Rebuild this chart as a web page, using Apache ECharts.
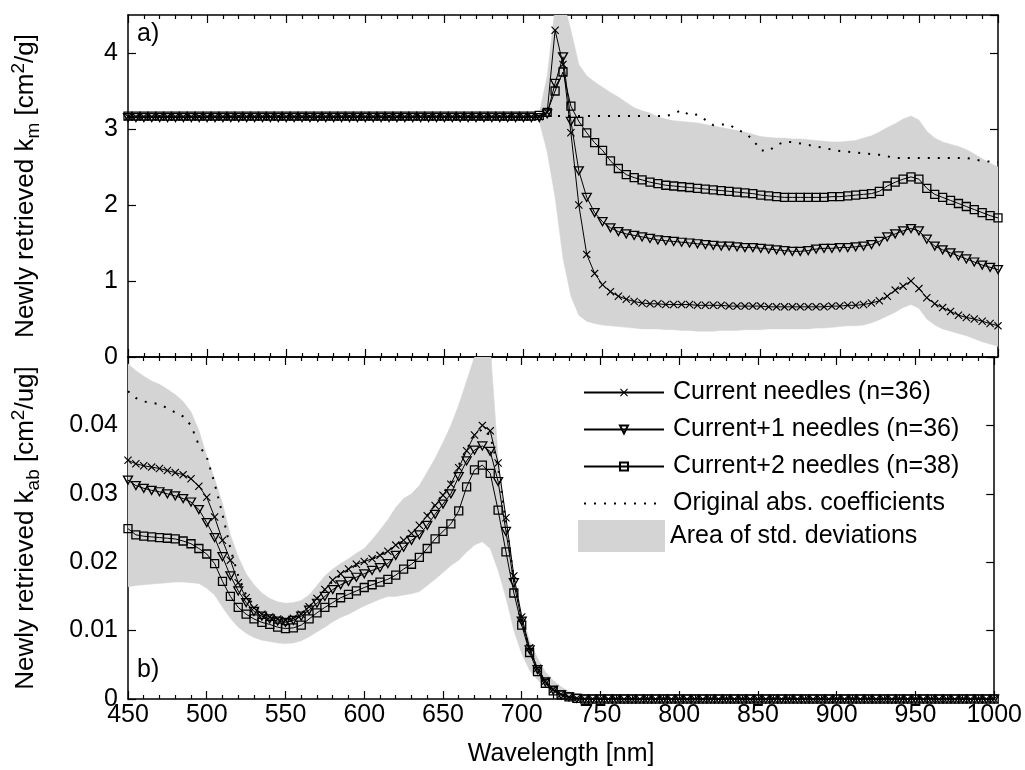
<!DOCTYPE html>
<html>
<head>
<meta charset="utf-8">
<script src="https://cdn.jsdelivr.net/npm/echarts@6/dist/echarts.min.js"></script>
<style>
html, body { margin: 0; padding: 0; background: #fff; }
#chart { width: 1025px; height: 770px; }
</style>
</head>
<body>
<div id="chart"></div>
<script>
// wavelength grid, 5 nm step
const wavelength = [
    450, 455, 460, 465, 470, 475, 480, 485, 490, 495,
    500, 505, 510, 515, 520, 525, 530, 535, 540, 545,
    550, 555, 560, 565, 570, 575, 580, 585, 590, 595,
    600, 605, 610, 615, 620, 625, 630, 635, 640, 645,
    650, 655, 660, 665, 670, 675, 680, 685, 690, 695,
    700, 705, 710, 715, 720, 725, 730, 735, 740, 745,
    750, 755, 760, 765, 770, 775, 780, 785, 790, 795,
    800, 805, 810, 815, 820, 825, 830, 835, 840, 845,
    850, 855, 860, 865, 870, 875, 880, 885, 890, 895,
    900, 905, 910, 915, 920, 925, 930, 935, 940, 945,
    950, 955, 960, 965, 970, 975, 980, 985, 990, 995,
    1000
];

// ---- panel a) k_m [cm2/g] ----
const kmCurrent = [
    3.16, 3.16, 3.16, 3.16, 3.16, 3.16, 3.16, 3.16, 3.16, 3.16,
    3.16, 3.16, 3.16, 3.16, 3.16, 3.16, 3.16, 3.16, 3.16, 3.16,
    3.16, 3.16, 3.16, 3.16, 3.16, 3.16, 3.16, 3.16, 3.16, 3.16,
    3.16, 3.16, 3.16, 3.16, 3.16, 3.16, 3.16, 3.16, 3.16, 3.16,
    3.16, 3.16, 3.16, 3.16, 3.16, 3.16, 3.16, 3.16, 3.16, 3.16,
    3.16, 3.16, 3.16, 3.22, 4.30, 3.85, 2.95, 2.00, 1.35, 1.10,
    0.95, 0.86, 0.80, 0.76, 0.73, 0.71, 0.70, 0.70, 0.69, 0.69,
    0.69, 0.69, 0.68, 0.68, 0.68, 0.68, 0.67, 0.67, 0.67, 0.67,
    0.67, 0.66, 0.66, 0.66, 0.66, 0.66, 0.66, 0.66, 0.66, 0.67,
    0.67, 0.68, 0.68, 0.69, 0.71, 0.74, 0.80, 0.88, 0.93, 1.00,
    0.90, 0.78, 0.70, 0.65, 0.60, 0.55, 0.52, 0.50, 0.47, 0.44,
    0.41
];
const kmPlus1 = [
    3.15, 3.15, 3.15, 3.15, 3.15, 3.15, 3.15, 3.15, 3.15, 3.15,
    3.15, 3.15, 3.15, 3.15, 3.15, 3.15, 3.15, 3.15, 3.15, 3.15,
    3.15, 3.15, 3.15, 3.15, 3.15, 3.15, 3.15, 3.15, 3.15, 3.15,
    3.15, 3.15, 3.15, 3.15, 3.15, 3.15, 3.15, 3.15, 3.15, 3.15,
    3.15, 3.15, 3.15, 3.15, 3.15, 3.15, 3.15, 3.15, 3.15, 3.15,
    3.15, 3.15, 3.15, 3.20, 3.60, 3.95, 3.10, 2.45, 2.10, 1.90,
    1.78, 1.70, 1.65, 1.62, 1.60, 1.58, 1.56, 1.54, 1.53, 1.52,
    1.51, 1.50, 1.49, 1.48, 1.47, 1.46, 1.46, 1.45, 1.44, 1.44,
    1.43, 1.42, 1.41, 1.40, 1.39, 1.39, 1.40, 1.42, 1.43, 1.43,
    1.44, 1.44, 1.45, 1.46, 1.48, 1.52, 1.58, 1.62, 1.66, 1.69,
    1.66, 1.55, 1.46, 1.41, 1.37, 1.33, 1.29, 1.25, 1.21, 1.18,
    1.15
];
const kmPlus2 = [
    3.17, 3.17, 3.17, 3.17, 3.17, 3.17, 3.17, 3.17, 3.17, 3.17,
    3.17, 3.17, 3.17, 3.17, 3.17, 3.17, 3.17, 3.17, 3.17, 3.17,
    3.17, 3.17, 3.17, 3.17, 3.17, 3.17, 3.17, 3.17, 3.17, 3.17,
    3.17, 3.17, 3.17, 3.17, 3.17, 3.17, 3.17, 3.17, 3.17, 3.17,
    3.17, 3.17, 3.17, 3.17, 3.17, 3.17, 3.17, 3.17, 3.17, 3.17,
    3.17, 3.17, 3.18, 3.22, 3.50, 3.75, 3.30, 3.10, 2.95, 2.82,
    2.72, 2.58, 2.48, 2.40, 2.36, 2.33, 2.30, 2.28, 2.26, 2.25,
    2.24, 2.23, 2.22, 2.21, 2.20, 2.19, 2.18, 2.17, 2.16, 2.15,
    2.13, 2.12, 2.11, 2.10, 2.10, 2.10, 2.10, 2.10, 2.10, 2.11,
    2.11, 2.12, 2.13, 2.14, 2.15, 2.18, 2.25, 2.30, 2.34, 2.37,
    2.34, 2.22, 2.14, 2.10, 2.06, 2.02, 1.98, 1.94, 1.90, 1.86,
    1.83
];
const kmOriginal = [
    3.17, 3.17, 3.17, 3.17, 3.17, 3.17, 3.17, 3.17, 3.17, 3.17,
    3.17, 3.17, 3.17, 3.17, 3.17, 3.17, 3.17, 3.17, 3.17, 3.17,
    3.17, 3.17, 3.17, 3.17, 3.17, 3.17, 3.17, 3.17, 3.17, 3.17,
    3.17, 3.17, 3.17, 3.17, 3.17, 3.17, 3.17, 3.17, 3.17, 3.17,
    3.17, 3.17, 3.17, 3.17, 3.17, 3.17, 3.17, 3.17, 3.17, 3.17,
    3.17, 3.17, 3.17, 3.17, 3.17, 3.17, 3.17, 3.17, 3.17, 3.17,
    3.17, 3.17, 3.17, 3.17, 3.17, 3.17, 3.17, 3.17, 3.17, 3.20,
    3.25, 3.18, 3.19, 3.12, 3.05, 3.06, 3.06, 2.99, 2.95, 2.86,
    2.72, 2.71, 2.79, 2.83, 2.83, 2.81, 2.79, 2.77, 2.75, 2.73,
    2.71, 2.70, 2.69, 2.68, 2.67, 2.66, 2.64, 2.62, 2.62, 2.62,
    2.62, 2.62, 2.62, 2.62, 2.62, 2.62, 2.62, 2.60, 2.58, 2.57,
    2.56
];
const kmStdHigh = [
    null, null, null, null, null, null, null, null, null, null,
    null, null, null, null, null, null, null, null, null, null,
    null, null, null, null, null, null, null, null, null, null,
    null, null, null, null, null, null, null, null, null, null,
    null, null, null, null, null, null, null, null, null, null,
    null, null, 3.20, 3.70, 4.60, 4.70, 4.30, 3.85, 3.70, 3.62,
    3.55, 3.48, 3.42, 3.35, 3.28, 3.24, 3.21, 3.16, 3.13, 3.11,
    3.10, 3.09, 3.08, 3.06, 3.04, 3.02, 3.00, 2.98, 2.96, 2.93,
    2.90, 2.89, 2.88, 2.88, 2.87, 2.87, 2.86, 2.85, 2.84, 2.83,
    2.83, 2.84, 2.85, 2.88, 2.91, 2.96, 3.02, 3.07, 3.13, 3.17,
    3.12, 2.97, 2.88, 2.83, 2.80, 2.77, 2.73, 2.67, 2.61, 2.55,
    2.50
];
const kmStdLow = [
    null, null, null, null, null, null, null, null, null, null,
    null, null, null, null, null, null, null, null, null, null,
    null, null, null, null, null, null, null, null, null, null,
    null, null, null, null, null, null, null, null, null, null,
    null, null, null, null, null, null, null, null, null, null,
    null, null, 3.10, 2.70, 2.10, 1.30, 0.80, 0.55, 0.47, 0.44,
    0.42, 0.41, 0.40, 0.39, 0.38, 0.37, 0.37, 0.37, 0.36, 0.36,
    0.35, 0.35, 0.34, 0.34, 0.34, 0.35, 0.35, 0.35, 0.36, 0.36,
    0.36, 0.37, 0.37, 0.37, 0.37, 0.37, 0.37, 0.38, 0.38, 0.39,
    0.40, 0.41, 0.41, 0.42, 0.45, 0.49, 0.54, 0.59, 0.65, 0.69,
    0.64, 0.50, 0.42, 0.37, 0.34, 0.31, 0.28, 0.24, 0.20, 0.17,
    0.14
];

// ---- panel b) k_ab [cm2/ug] ----
const kabCurrent = [
    0.0349, 0.0344, 0.0341, 0.0339, 0.0337, 0.0334, 0.0331, 0.0328, 0.0322, 0.0311,
    0.0295, 0.0266, 0.0232, 0.0203, 0.0170, 0.0148, 0.0133, 0.0124, 0.0120, 0.0117,
    0.0115, 0.0118, 0.0124, 0.0135, 0.0147, 0.0160, 0.0174, 0.0183, 0.0190, 0.0197,
    0.0201, 0.0205, 0.0210, 0.0216, 0.0225, 0.0232, 0.0242, 0.0254, 0.0268, 0.0283,
    0.0298, 0.0314, 0.0338, 0.0363, 0.0386, 0.0400, 0.0392, 0.0345, 0.0265, 0.0180,
    0.0120, 0.0075, 0.0045, 0.0026, 0.0014, 0.0007, 0.0003, 0.0001, 0, 0,
    0, 0, 0, 0, 0, 0, 0, 0, 0, 0,
    0, 0, 0, 0, 0, 0, 0, 0, 0, 0,
    0, 0, 0, 0, 0, 0, 0, 0, 0, 0,
    0, 0, 0, 0, 0, 0, 0, 0, 0, 0,
    0, 0, 0, 0, 0, 0, 0, 0, 0, 0,
    0
];
const kabPlus1 = [
    0.0320, 0.0312, 0.0308, 0.0305, 0.0303, 0.0300, 0.0297, 0.0293, 0.0288, 0.0277,
    0.0258, 0.0236, 0.0208, 0.0180, 0.0158, 0.0141, 0.0128, 0.0121, 0.0117, 0.0114,
    0.0112, 0.0115, 0.0121, 0.0130, 0.0140, 0.0150, 0.0160, 0.0167, 0.0172, 0.0178,
    0.0183, 0.0188, 0.0192, 0.0198, 0.0210, 0.0222, 0.0232, 0.0240, 0.0254, 0.0270,
    0.0285, 0.0300, 0.0325, 0.0348, 0.0364, 0.0370, 0.0362, 0.0318, 0.0245, 0.0170,
    0.0114, 0.0072, 0.0043, 0.0025, 0.0013, 0.0006, 0.0003, 0.0001, 0, 0,
    0, 0, 0, 0, 0, 0, 0, 0, 0, 0,
    0, 0, 0, 0, 0, 0, 0, 0, 0, 0,
    0, 0, 0, 0, 0, 0, 0, 0, 0, 0,
    0, 0, 0, 0, 0, 0, 0, 0, 0, 0,
    0, 0, 0, 0, 0, 0, 0, 0, 0, 0,
    0
];
const kabPlus2 = [
    0.0249, 0.0240, 0.0238, 0.0237, 0.0236, 0.0235, 0.0234, 0.0231, 0.0227, 0.0220,
    0.0212, 0.0198, 0.0172, 0.0150, 0.0134, 0.0124, 0.0117, 0.0112, 0.0109, 0.0105,
    0.0103, 0.0104, 0.0108, 0.0117, 0.0126, 0.0134, 0.0141, 0.0148, 0.0153, 0.0158,
    0.0163, 0.0167, 0.0171, 0.0175, 0.0181, 0.0190, 0.0197, 0.0207, 0.0220, 0.0234,
    0.0245, 0.0256, 0.0275, 0.0310, 0.0335, 0.0342, 0.0330, 0.0276, 0.0215, 0.0155,
    0.0108, 0.0068, 0.0040, 0.0023, 0.0012, 0.0006, 0.0003, 0.0001, 0, 0,
    0, 0, 0, 0, 0, 0, 0, 0, 0, 0,
    0, 0, 0, 0, 0, 0, 0, 0, 0, 0,
    0, 0, 0, 0, 0, 0, 0, 0, 0, 0,
    0, 0, 0, 0, 0, 0, 0, 0, 0, 0,
    0, 0, 0, 0, 0, 0, 0, 0, 0, 0,
    0
];
const kabOriginal = [
    0.0450, 0.0440, 0.0435, 0.0433, 0.0431, 0.0425, 0.0419, 0.0413, 0.0400, 0.0371,
    0.0354, 0.0315, 0.0270, 0.0220, 0.0180, 0.0152, 0.0136, 0.0127, 0.0122, 0.0118,
    0.0116, 0.0119, 0.0125, 0.0135, 0.0147, 0.0160, 0.0172, 0.0181, 0.0188, 0.0195,
    0.0200, 0.0205, 0.0210, 0.0216, 0.0224, 0.0232, 0.0242, 0.0254, 0.0268, 0.0284,
    0.0300, 0.0318, 0.0342, 0.0365, 0.0385, 0.0395, 0.0385, 0.0338, 0.0258, 0.0176,
    0.0116, 0.0073, 0.0044, 0.0025, 0.0013, 0.0007, 0.0003, 0.0001, 0, 0,
    0, 0, 0, 0, 0, 0, 0, 0, 0, 0,
    0, 0, 0, 0, 0, 0, 0, 0, 0, 0,
    0, 0, 0, 0, 0, 0, 0, 0, 0, 0,
    0, 0, 0, 0, 0, 0, 0, 0, 0, 0,
    0, 0, 0, 0, 0, 0, 0, 0, 0, 0,
    0
];
const kabStdHigh = [
    0.0490, 0.0480, 0.0472, 0.0465, 0.0460, 0.0453, 0.0445, 0.0435, 0.0420, 0.0393,
    0.0355, 0.0322, 0.0286, 0.0240, 0.0208, 0.0183, 0.0167, 0.0155, 0.0147, 0.0142,
    0.0140, 0.0141, 0.0144, 0.0152, 0.0166, 0.0180, 0.0190, 0.0198, 0.0205, 0.0213,
    0.0220, 0.0233, 0.0247, 0.0262, 0.0280, 0.0293, 0.0300, 0.0312, 0.0332, 0.0352,
    0.0375, 0.0400, 0.0430, 0.0465, 0.0500, 0.0530, 0.0515, 0.0354, 0.0258, 0.0180,
    0.0125, 0.0085, 0.0060, 0.0040, 0.0027, 0.0018, 0.0011, 0.0008, 0.0005, 0.0003,
    0.0002, 0.0001, 0, 0, 0, 0, 0, 0, 0, 0,
    0, 0, 0, 0, 0, 0, 0, 0, 0, 0,
    0, 0, 0, 0, 0, 0, 0, 0, 0, 0,
    0, 0, 0, 0, 0, 0, 0, 0, 0, 0,
    0, 0, 0, 0, 0, 0, 0, 0, 0, 0,
    0
];
const kabStdLow = [
    0.0164, 0.0166, 0.0167, 0.0168, 0.0169, 0.0170, 0.0171, 0.0171, 0.0170, 0.0169,
    0.0162, 0.0152, 0.0134, 0.0118, 0.0105, 0.0096, 0.0090, 0.0086, 0.0084, 0.0082,
    0.0081, 0.0082, 0.0085, 0.0091, 0.0098, 0.0105, 0.0113, 0.0119, 0.0124, 0.0130,
    0.0136, 0.0141, 0.0146, 0.0150, 0.0150, 0.0152, 0.0154, 0.0157, 0.0166, 0.0175,
    0.0185, 0.0195, 0.0203, 0.0215, 0.0225, 0.0230, 0.0220, 0.0188, 0.0148, 0.0100,
    0.0066, 0.0042, 0.0028, 0.0018, 0.0010, 0.0005, 0.0002, 0.0001, 0, 0,
    0, 0, 0, 0, 0, 0, 0, 0, 0, 0,
    0, 0, 0, 0, 0, 0, 0, 0, 0, 0,
    0, 0, 0, 0, 0, 0, 0, 0, 0, 0,
    0, 0, 0, 0, 0, 0, 0, 0, 0, 0,
    0, 0, 0, 0, 0, 0, 0, 0, 0, 0,
    0
];

const xTicks = [450, 1000, 50];   // min, max, step
const kmTicks = [0, 4.5, 1];
const kabTicks = [0, 0.05, 0.01];

const names = ['Current needles (n=36)', 'Current+1 needles (n=36)', 'Current+2 needles (n=38)',
    'Original abs. coefficients', 'Area of std. deviations'];

const FONT = 'Liberation Sans, Arial, sans-serif';
const FS = 25;
const BAND = '#d4d4d4';
const crossPath = 'path://M1,0L5,4L9,0L10,1L6,5L10,9L9,10L5,6L1,10L0,9L4,5L0,1Z';

function pairs(ys) {
    return wavelength.map((x, i) => [x, ys[i]]);
}

function xAxisDef(grid, pos, labels) {
    return {
        type: 'value', gridIndex: grid, position: pos,
        min: xTicks[0], max: xTicks[1], interval: xTicks[2],
        axisLine: { show: true, onZero: false, lineStyle: { color: '#000', width: 1.5 } },
        axisTick: { show: true, inside: true, length: 8, lineStyle: { color: '#000', width: 1.2 } },
        minorTick: { show: true, splitNumber: 5, length: 4, lineStyle: { color: '#000', width: 1.2 } },
        axisLabel: { show: labels, color: '#000', fontSize: FS, fontFamily: FONT, margin: 4,
            formatter: v => String(v) },
        splitLine: { show: false },
        name: labels ? 'Wavelength [nm]' : '',
        nameLocation: 'middle', nameGap: 43,
        nameTextStyle: { color: '#000', fontSize: FS, fontFamily: FONT }
    };
}
function yAxisDef(grid, pos, ticks, labels, name, sub, unit) {
    return {
        type: 'value', gridIndex: grid, position: pos,
        min: ticks[0], max: ticks[1], interval: ticks[2],
        axisLine: { show: true, onZero: false, lineStyle: { color: '#000', width: 1.5 } },
        axisTick: { show: true, inside: true, length: 8, lineStyle: { color: '#000', width: 1.2 } },
        axisLabel: { show: labels, showMaxLabel: false, color: '#000', fontSize: FS, fontFamily: FONT, margin: 10 },
        splitLine: { show: false },
        name: labels ? '{n|' + name + '}{s|' + sub + '}{n| [cm}{p|2}{n|' + unit + ']}' : '',
        nameLocation: 'middle', nameGap: 85,
        nameTextStyle: {
            color: '#000', fontFamily: FONT,
            rich: {
                n: { fontSize: 26, fontFamily: FONT, color: '#000', lineHeight: 34 },
                s: { fontSize: 19, fontFamily: FONT, color: '#000', verticalAlign: 'bottom', lineHeight: 19 },
                p: { fontSize: 19, fontFamily: FONT, color: '#000', verticalAlign: 'top', lineHeight: 19 }
            }
        }
    };
}

// std-deviation band: one polygon, upper edge forward then lower edge back
function bandSeries(xi, yi, hi, lo) {
    const rows = [];
    wavelength.forEach((x, i) => {
        if (hi[i] != null && lo[i] != null) rows.push([x, lo[i], hi[i]]);
    });
    return {
        type: 'custom', name: names[4], xAxisIndex: xi, yAxisIndex: yi,
        silent: true, animation: false, clip: true,
        itemStyle: { color: BAND },
        encode: { x: 0, y: [1, 2] },
        data: rows,
        renderItem: function (params, api) {
            if (params.dataIndex !== 0) return null;
            const pts = [];
            rows.forEach(r => pts.push(api.coord([r[0], r[2]])));
            for (let k = rows.length - 1; k >= 0; k--) pts.push(api.coord([rows[k][0], rows[k][1]]));
            const cs = params.coordSys;
            return {
                type: 'polygon',
                shape: { points: pts },
                style: { fill: BAND, stroke: BAND, lineWidth: 0.5 },
                clipPath: { type: 'rect', shape: { x: cs.x, y: cs.y, width: cs.width, height: cs.height } }
            };
        }
    };
}

function panelSeries(xi, yi, cur, p1, p2, orig, hi, lo) {
    const base = { type: 'line', xAxisIndex: xi, yAxisIndex: yi, animation: false, silent: true, clip: true };
    return [
        bandSeries(xi, yi, hi, lo),
        Object.assign({}, base, {
            name: names[3], data: pairs(orig), symbol: 'none',
            itemStyle: { color: '#000' },
            lineStyle: { color: '#000', width: 2, type: [2, 8] }
        }),
        Object.assign({}, base, {
            name: names[0], data: pairs(cur), symbol: crossPath, symbolSize: 8,
            itemStyle: { color: '#000', borderWidth: 0 },
            lineStyle: { color: '#000', width: 1 }
        }),
        Object.assign({}, base, {
            name: names[1], data: pairs(p1), symbol: 'triangle', symbolRotate: 180, symbolSize: [9, 8],
            itemStyle: { color: 'rgba(0,0,0,0)', borderColor: '#000', borderWidth: 1.3 },
            lineStyle: { color: '#000', width: 1 }
        }),
        Object.assign({}, base, {
            name: names[2], data: pairs(p2), symbol: 'rect', symbolSize: 8,
            itemStyle: { color: 'rgba(0,0,0,0)', borderColor: '#000', borderWidth: 1.3 },
            lineStyle: { color: '#000', width: 1 }
        })
    ];
}

const chart = echarts.init(document.getElementById('chart'), null, { renderer: 'canvas' });
chart.setOption({
    backgroundColor: '#fff',
    animation: false,
    textStyle: { fontFamily: FONT, color: '#000' },
    grid: [
        { left: 128, right: 27, top: 15, height: 342 },
        { left: 128, right: 27, top: 357, height: 342 }
    ],
    xAxis: [
        xAxisDef(0, 'bottom', false),
        xAxisDef(0, 'top', false),
        xAxisDef(1, 'bottom', true),
        xAxisDef(1, 'top', false)
    ],
    yAxis: [
        yAxisDef(0, 'left', kmTicks, true, 'Newly retrieved k', 'm', '/g'),
        yAxisDef(0, 'right', kmTicks, false),
        yAxisDef(1, 'left', kabTicks, true, 'Newly retrieved k', 'ab', '/ug'),
        yAxisDef(1, 'right', kabTicks, false)
    ],
    legend: [
        {
            orient: 'vertical', left: 583, top: 380, padding: 0,
            itemWidth: 80, itemHeight: 10, itemGap: 12, selectedMode: false,
            textStyle: { color: '#000', fontSize: FS, fontFamily: FONT, lineHeight: 25, padding: [0, 0, 0, 4] },
            data: [
                names[0], names[1], names[2],
                { name: names[3], itemStyle: { color: 'rgba(0,0,0,0)', borderWidth: 0 } }
            ]
        },
        {
            orient: 'vertical', left: 578, top: 520, padding: 0,
            itemWidth: 87, itemHeight: 32, icon: 'rect', selectedMode: false,
            itemStyle: { color: BAND, borderWidth: 0 },
            textStyle: { color: '#000', fontSize: FS, fontFamily: FONT, lineHeight: 32 },
            data: [names[4]]
        }
    ],
    graphic: [
        { type: 'text', left: 137, top: 22, style: { text: 'a)', font: FS + 'px ' + FONT, fill: '#000' } },
        { type: 'text', left: 137, top: 658, style: { text: 'b)', font: FS + 'px ' + FONT, fill: '#000' } }
    ],
    series: [].concat(
        panelSeries(0, 0, kmCurrent, kmPlus1, kmPlus2, kmOriginal, kmStdHigh, kmStdLow),
        panelSeries(2, 2, kabCurrent, kabPlus1, kabPlus2, kabOriginal, kabStdHigh, kabStdLow)
    )
});
</script>
</body>
</html>
